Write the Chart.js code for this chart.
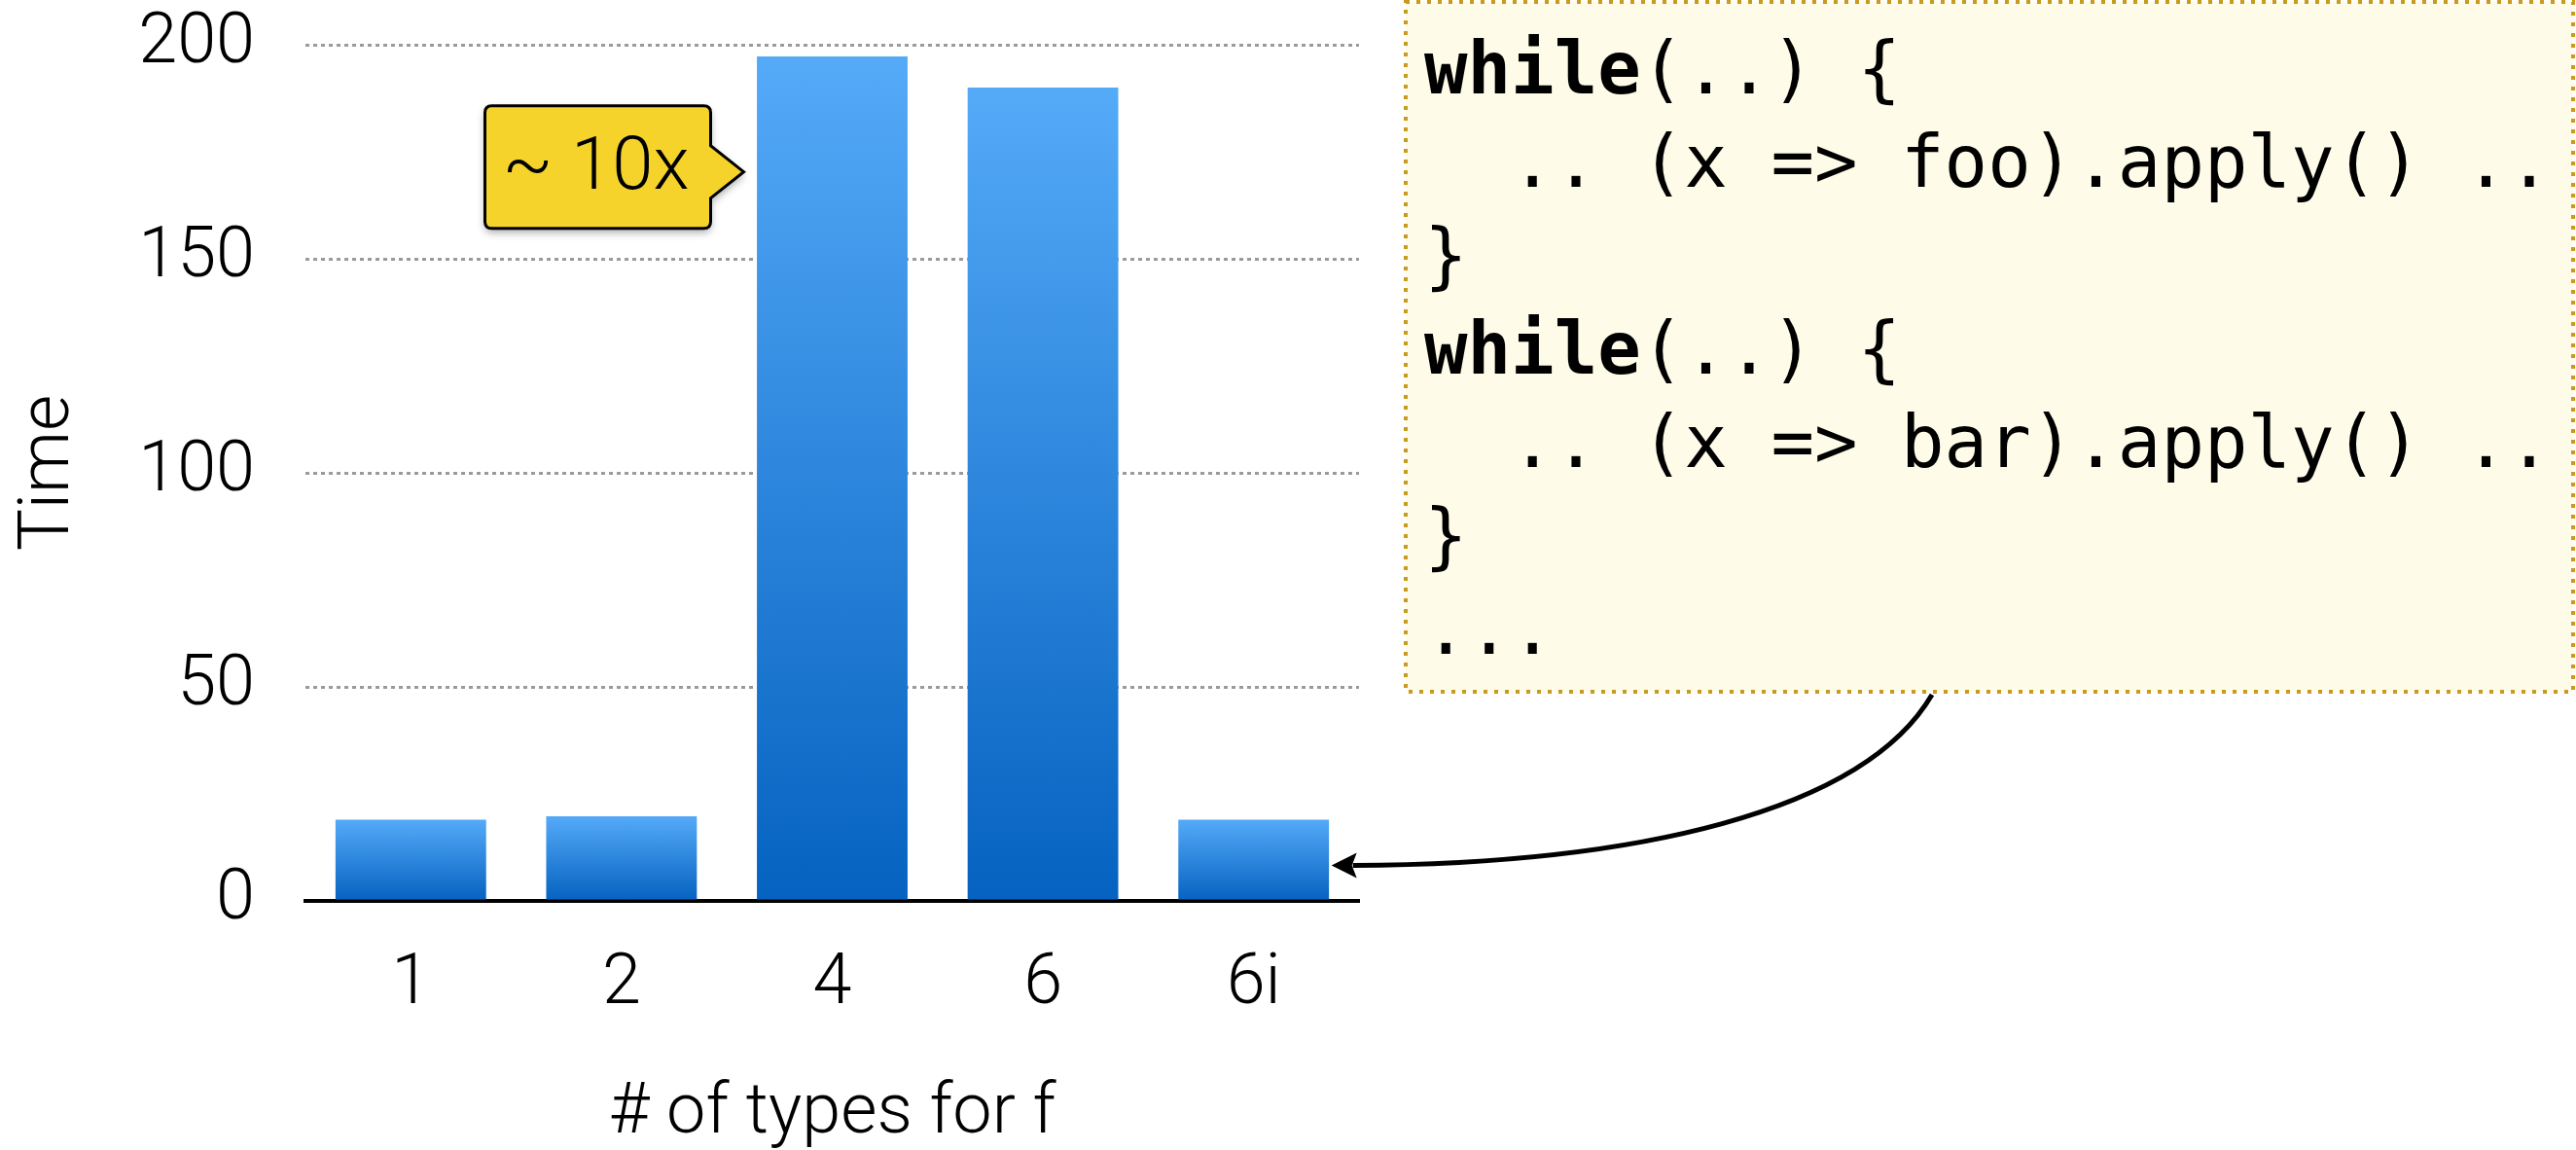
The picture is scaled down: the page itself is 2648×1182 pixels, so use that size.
<!DOCTYPE html>
<html>
<head>
<meta charset="utf-8">
<script src="https://cdn.jsdelivr.net/npm/chart.js@4.4.0/dist/chart.umd.min.js"></script>
<style>
  html, body { margin: 0; padding: 0; background: #fff; overflow: hidden; }
  #wrap { position: relative; width: 2648px; height: 1182px; }
  #code {
    position: absolute;
    left: 1464px;
    top: 22px;
    margin: 0;
    font-family: "DejaVu Sans Mono", monospace;
    font-size: 74px;
    line-height: 96px;
    color: #000;
  }
  #code b { font-weight: bold; }
</style>
</head>
<body>
<div id="wrap">
  <canvas id="chart" width="2648" height="1182"></canvas>
  <pre id="code"><b>while</b>(..) {
  .. (x => foo).apply() ..
}
<b>while</b>(..) {
  .. (x => bar).apply() ..
}
...</pre>
</div>
<script>
const categories = ['1', '2', '4', '6', '6i'];
const times = [19, 19.8, 197.3, 190, 19];
const yTicks = [0, 50, 100, 150, 200];
const xTitle = '# of types for f';
const yTitle = 'Time';
const calloutText = '~ 10x';

const barTop = '#55aaf8';
const barBottom = '#0562c0';
const labelFont = 'Roboto, "Liberation Sans", sans-serif';

// box, arrow and callout drawn on top of the chart
const overlay = {
  id: 'overlay',
  beforeDraw(chart) {
    const c = chart.ctx;
    c.save();
    c.fillStyle = '#fefbe8';
    c.fillRect(1445, 2, 1200, 709);
    c.strokeStyle = '#c89b1e';
    c.lineWidth = 4;
    c.setLineDash([4, 7]);
    c.strokeRect(1445, 2, 1200, 709);
    c.restore();
  },
  afterDraw(chart) {
    const c = chart.ctx;
    const x = chart.scales.x, y = chart.scales.y;

    // curved arrow from the code box to the last bar
    const tipX = x.getPixelForValue(4) + 80;
    const tipY = y.getPixelForValue(8.3);
    c.save();
    c.strokeStyle = '#000';
    c.lineWidth = 5;
    c.beginPath();
    c.moveTo(1986, 714);
    c.bezierCurveTo(1915, 835, 1680, 888, tipX + 22, tipY);
    c.stroke();
    c.fillStyle = '#000';
    c.beginPath();
    c.moveTo(tipX, tipY);
    c.lineTo(tipX + 26, tipY - 13);
    c.lineTo(tipX + 21, tipY);
    c.lineTo(tipX + 26, tipY + 13);
    c.closePath();
    c.fill();
    c.restore();

    // "~ 10x" callout pointing at bar 4
    const px = x.getPixelForValue(2) - 78 - 13;
    const py = y.getPixelForValue(170.3);
    const l = px - 266, r = px - 34, t = py - 68, b = py + 58, rad = 7;
    c.save();
    c.beginPath();
    c.moveTo(l + rad, t);
    c.lineTo(r - rad, t);
    c.quadraticCurveTo(r, t, r, t + rad);
    c.lineTo(r, py - 27);
    c.lineTo(px, py);
    c.lineTo(r, py + 27);
    c.lineTo(r, b - rad);
    c.quadraticCurveTo(r, b, r - rad, b);
    c.lineTo(l + rad, b);
    c.quadraticCurveTo(l, b, l, b - rad);
    c.lineTo(l, t + rad);
    c.quadraticCurveTo(l, t, l + rad, t);
    c.closePath();
    c.shadowColor = 'rgba(0,0,0,0.35)';
    c.shadowBlur = 8;
    c.shadowOffsetY = 4;
    c.fillStyle = '#f5d32a';
    c.fill();
    c.shadowColor = 'transparent';
    c.lineWidth = 3;
    c.strokeStyle = '#000';
    c.stroke();
    c.fillStyle = '#000';
    c.font = '300 76px ' + labelFont;
    c.textBaseline = 'middle';
    c.textAlign = 'left';
    c.fillText(calloutText, l + 18, py - 2);
    c.restore();
  }
};

new Chart(document.getElementById('chart'), {
  type: 'bar',
  data: {
    labels: categories,
    datasets: [{
      data: times,
      backgroundColor: ctx => {
        const chart = ctx.chart;
        if (!chart.chartArea || ctx.type !== 'data') return barTop;
        const ys = chart.scales.y;
        const top = ys.getPixelForValue(ctx.raw);
        const bottom = ys.getPixelForValue(0);
        const g = chart.ctx.createLinearGradient(0, top, 0, bottom);
        g.addColorStop(0, barTop);
        g.addColorStop(1, barBottom);
        return g;
      },
      borderWidth: 0,
      barPercentage: 0.715,
      categoryPercentage: 1
    }]
  },
  options: {
    responsive: false,
    animation: false,
    layout: { padding: { top: 46, right: 1251, left: 0, bottom: 0 } },
    plugins: {
      legend: { display: false },
      tooltip: { enabled: false },
      title: { display: false }
    },
    scales: {
      x: {
        grid: { display: false, drawTicks: false },
        border: { display: true, color: '#000', width: 4 },
        ticks: {
          color: '#000',
          padding: 44,
          font: { family: labelFont, size: 72, weight: 300, lineHeight: 1.2 }
        },
        title: {
          display: true,
          text: xTitle,
          color: '#000',
          padding: 0,
          font: { family: labelFont, size: 72, weight: 300, lineHeight: 1 }
        },
        afterFit: s => { s.height = 256; }
      },
      y: {
        min: 0,
        max: 200,
        afterBuildTicks: s => { s.ticks = yTicks.map(v => ({ value: v })); },
        grid: {
          drawTicks: false,
          lineWidth: 3,
          color: c => c.tick && c.tick.value === 0 ? 'rgba(0,0,0,0)' : '#9a9a9a'
        },
        border: { display: false, dash: [4, 4] },
        ticks: {
          color: '#000',
          padding: 52,
          font: { family: labelFont, size: 72, weight: 300, lineHeight: 1.2 }
        },
        title: {
          display: true,
          text: yTitle,
          color: '#000',
          padding: { top: 16, bottom: 0 },
          font: { family: labelFont, size: 72, weight: 300, lineHeight: 1 }
        },
        afterFit: s => {
          s.width = 314;
          s.paddingTop = 0;
          s.paddingBottom = 0;
        }
      }
    }
  },
  plugins: [overlay]
});
</script>
</body>
</html>
